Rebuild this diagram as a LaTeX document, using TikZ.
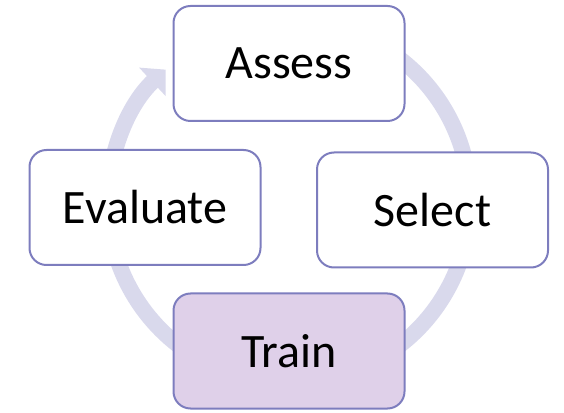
\documentclass[tikz,border=0pt]{standalone}
\usepackage{fontspec}
\setmainfont{Carlito}
\usepackage{tikz}
\usetikzlibrary{arrows.meta}

\definecolor{stageline}{RGB}{125,125,190}
\definecolor{ringcolor}{RGB}{217,217,236}
\definecolor{trainfill}{RGB}{223,208,233}

\tikzset{
    stage/.style={draw=stageline, line width=2pt, fill=white, rounded corners=17pt,
        minimum width=231pt, minimum height=115pt, inner sep=0pt,
        font=\fontsize{48}{56}\selectfont},
    ring/.style={draw=ringcolor, line width=16pt,
        -{Triangle[width=38pt, length=18pt]}}
}

\begin{document}
\begin{tikzpicture}
    \useasboundingbox (0,0) rectangle (564pt,412pt);

    % Centre of the cycle
    \coordinate (hub) at (289pt,210pt);

    % Draw the circular arrow behind the boxes
    \draw[ring] ([shift={(60:181pt)}]hub) arc[start angle=60, end angle=-227, radius=181pt];

    % Draw the stages
    \foreach \name/\x/\y/\txt in {assess/289/348.5/Assess, select/432.5/202/Select, evaluate/145/204.5/Evaluate} {
        \node[stage] (\name) at (\x pt,\y pt) {\txt};
    }

    % The highlighted stage
    \node[stage, fill=trainfill] (train) at (289pt,61pt) {Train};

\end{tikzpicture}
\end{document}
